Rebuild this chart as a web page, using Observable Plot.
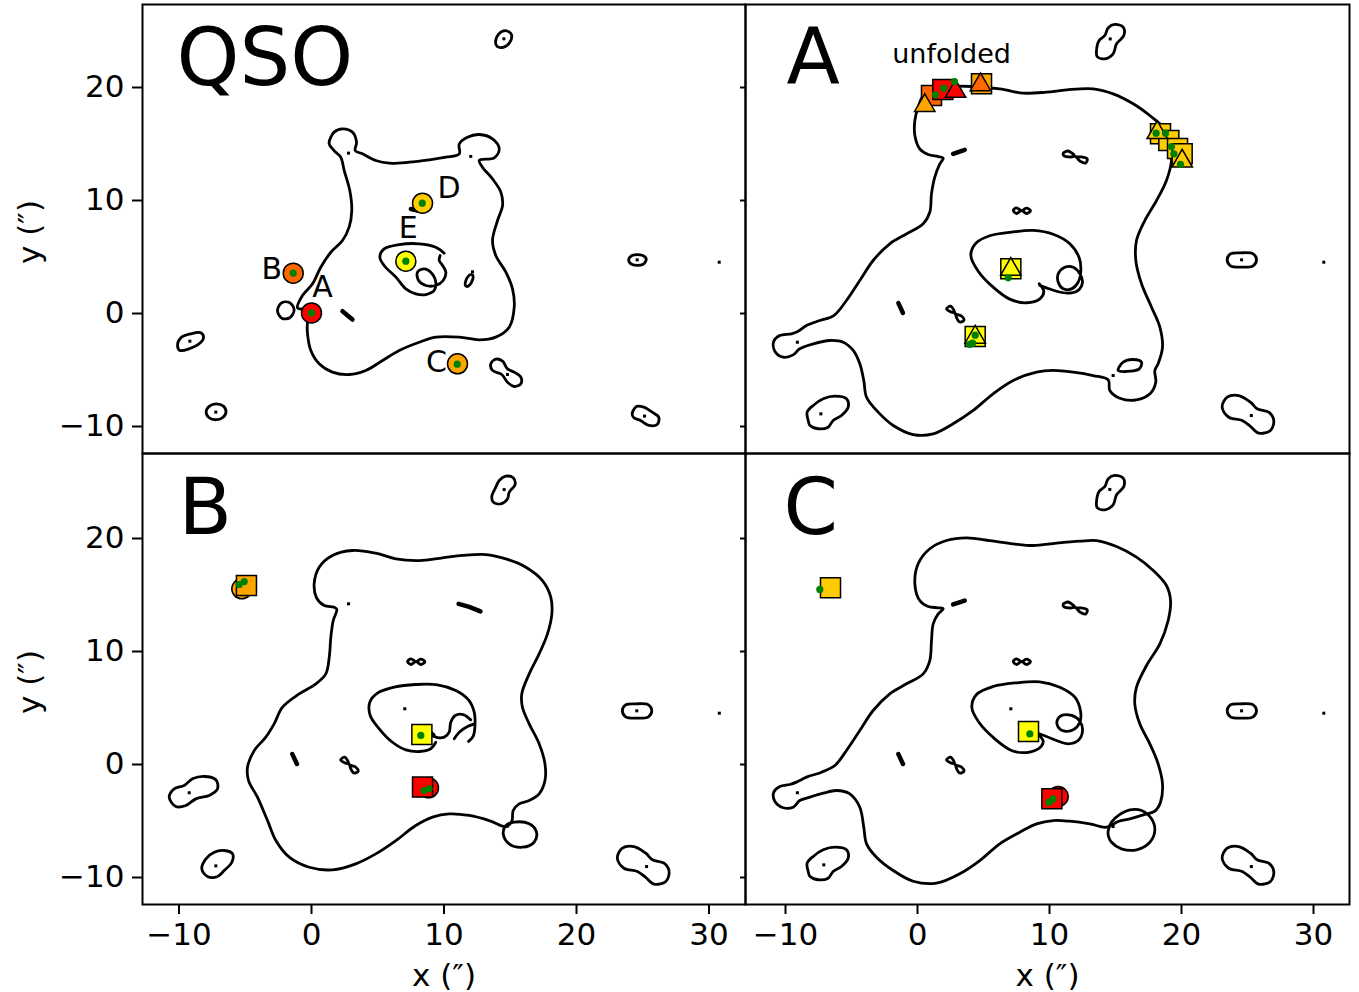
<!DOCTYPE html>
<html><head><meta charset="utf-8">
<script src="https://cdn.jsdelivr.net/npm/d3@7"></script>
<script src="https://cdn.jsdelivr.net/npm/@observablehq/plot@0.6"></script>
<style>
body{margin:0;background:#fff;}
#wrap{position:relative;width:1359px;height:992px;overflow:hidden;background:#fff;}
#wrap svg{position:absolute;max-width:none;}
</style></head><body><div id="wrap"></div>
<script>
// ---------- tick values ----------
const xTicks = [-10, 0, 10, 20, 30];
const yTicks = [-10, 0, 10, 20];
const imgColor = {A: "#ff0000", B: "#ff6600", C: "#ffa500", D: "#ffcc00", E: "#ffff00"};

// ---------- QSO panel ----------
const qsoMain = [[1.33,15.16],[1.71,16.05],[2.34,16.34],[3.09,16.05],[3.40,15.16],[3.30,14.42],[3.85,14.13],[4.85,13.54],[5.86,13.30],[7.37,13.39],[8.88,13.60],[10.14,13.83],[11.15,14.13],[11.15,15.0],[11.77,15.6],[12.66,15.84],[13.66,15.46],[14.17,14.57],[13.79,13.78],[12.66,13.55],[12.9,12.95],[13.66,11.92],[14.29,10.74],[14.42,9.56],[14.04,8.23],[13.66,6.46],[13.91,5.13],[14.67,3.66],[15.17,2.18],[15.3,0.56],[14.92,-1.21],[13.91,-2.09],[12.66,-2.33],[11.15,-2.09],[9.38,-2.09],[8.13,-2.54],[6.62,-3.27],[5.36,-4.16],[4.1,-5.04],[2.84,-5.4],[1.58,-5.19],[0.58,-4.45],[-0.05,-3.27],[-0.3,-1.8],[-0.3,-0.77],[-0.17,-0.18],[-0.55,0.33],[-1.06,0.5],[-0.68,1.59],[0.08,2.63],[0.7,4.1],[1.46,5.42],[2.34,6.46],[2.84,7.64],[3.04,9.12],[2.89,10.88],[2.47,12.65],[2.21,13.83],[1.83,14.27],[1.38,14.87]];
const qsoLoop = [[-2.57,0.27],[-2.24,0.95],[-1.64,0.95],[-1.31,0.33],[-1.64,-0.38],[-2.24,-0.42]];
const qsoI = [[11.6,2.54],[11.77,3.21],[12.1,3.45],[12.2,3.21],[11.95,2.54],[11.7,2.39]];
const qsoLeft = [[-10.11,-2.83],[-9.86,-2.15],[-9.11,-1.8],[-8.35,-1.71],[-8.15,-2.15],[-8.48,-2.68],[-9.23,-3.12],[-9.94,-3.27]];
const qsoRing = [[-7.95,-8.7],[-7.7,-8.2],[-7.2,-8.0],[-6.65,-8.2],[-6.45,-8.7],[-6.7,-9.2],[-7.2,-9.4],[-7.75,-9.2]];
const qsoPeanut = [[13.53,-4.45],[13.91,-4.04],[14.42,-4.22],[14.79,-4.9],[15.3,-5.19],[15.8,-5.64],[15.8,-6.22],[15.3,-6.46],[14.79,-6.08],[14.36,-5.4],[13.66,-5.04]];
const qsoTop = [[13.89,24.01],[14.14,24.75],[14.64,25.04],[15.09,24.69],[14.97,24.01],[14.52,23.57],[14.01,23.63]];
const qsoRight = [[23.94,4.75],[24.2,5.13],[24.95,5.16],[25.26,4.84],[25.03,4.36],[24.2,4.34]];
const qsoBR = [[24.2,-8.88],[24.53,-8.23],[25.08,-8.29],[25.71,-8.73],[26.21,-9.18],[26.09,-9.82],[25.46,-9.91],[24.83,-9.47],[24.33,-9.23]];
const qsoInner = [[10.01,5.34],[9.38,5.87],[8.13,6.17],[6.62,6.1],[5.48,5.72],[5.16,4.99],[5.48,4.25],[6.37,3.22],[7.12,2.18],[7.87,1.74],[8.63,1.68],[9.26,2.04],[9.38,2.77],[9.0,3.66],[8.5,3.95],[8.0,3.66],[8.08,2.92],[8.63,2.48],[9.38,2.48],[9.94,2.92],[10.14,3.66],[9.89,4.25],[9.64,4.69],[9.71,5.13]];
const qsoDashes = [[[2.34,0.2],[3.09,-0.53]], [[7.5,9.25],[8.1,9.08]]];
const qsoDots = [[2.79,14.19],[12.02,13.9],[-9.18,-2.45],[-7.22,-8.73],[14.79,-5.4],[7.0,4.98],[14.52,24.31],[24.58,4.75],[30.77,4.54],[25.13,-9.08],[12.15,3.69]];
const qsoCircles = [[0,0.05,"A"],[-1.38,3.57,"B"],[11.02,-4.45,"C"],[8.38,9.76,"D"],[7.12,4.63,"E"]];
const qsoGreen = [[0,0.05],[-1.38,3.57],[11.0,-4.48],[8.36,9.76],[7.12,4.63]];
const qsoLabels = [{t:"A",x:0.83,y:2.33},{t:"B",x:-3.0,y:3.87},{t:"C",x:9.43,y:-4.31},{t:"D",x:10.39,y:11.04},{t:"E",x:7.3,y:7.5}];

// ---------- shared islands for A/B/C ----------
const rightEll = [[23.46,4.75],[23.71,5.28],[24.47,5.37],[25.43,5.28],[25.68,4.75],[25.43,4.22],[24.47,4.1],[23.71,4.22]];
const brPeanut = [[23.08,-8.29],[23.46,-7.41],[24.34,-7.26],[25.23,-7.85],[25.73,-8.43],[26.61,-8.73],[26.99,-9.47],[26.74,-10.35],[25.86,-10.59],[25.23,-10.0],[24.6,-9.47],[23.58,-9.18]];
const infinity8 = [[7.25,9.12],[7.5,9.35],[7.88,9.1],[8.26,9.32],[8.56,9.1],[8.26,8.85],[7.88,9.1],[7.5,8.85]];
const lowFig8 = [[2.2,0.42],[2.5,0.65],[2.75,0.3],[2.85,0.0],[3.35,-0.25],[3.52,-0.6],[3.2,-0.75],[2.95,-0.35],[2.85,0.0],[2.5,0.15]];
const topFig8 = [[11.04,14.19],[11.4,14.38],[11.8,14.1],[11.95,13.9],[12.4,13.85],[12.86,13.68],[12.75,13.33],[12.3,13.5],[11.95,13.9],[11.6,13.85],[11.1,13.95]];
const lowDash = [[-1.45,0.92],[-1.1,0.05]];
const rightDots = [[24.55,4.75],[30.78,4.54],[25.29,-9.03]];

// ---------- A panel ----------
const aMain = [[0.43,19.29],[1.19,19.88],[2.2,20.09],[4.22,20.09],[6.23,19.88],[8.0,19.5],[9.77,19.59],[11.29,19.79],[13.31,19.88],[14.82,19.44],[16.34,18.56],[17.6,17.52],[18.61,16.49],[19.11,15.31],[19.24,13.54],[18.86,11.77],[18.11,10.0],[17.22,8.23],[16.59,6.46],[16.54,4.69],[16.97,2.63],[17.73,0.56],[18.36,-1.21],[18.56,-2.98],[18.23,-4.45],[17.98,-5.04],[18.05,-6.08],[17.65,-7.05],[16.59,-7.64],[15.33,-7.5],[14.57,-6.81],[14.45,-5.87],[13.31,-5.49],[11.8,-5.19],[10.28,-5.04],[9.02,-5.19],[7.25,-5.93],[5.73,-7.11],[4.22,-8.58],[2.7,-9.76],[1.19,-10.65],[-0.33,-10.71],[-1.84,-9.91],[-2.98,-8.73],[-3.86,-7.41],[-4.07,-5.93],[-4.37,-4.45],[-4.87,-3.27],[-5.63,-2.54],[-6.64,-2.39],[-7.9,-2.68],[-8.92,-3.12],[-9.42,-3.66],[-10.17,-3.87],[-10.81,-3.34],[-10.89,-2.45],[-10.43,-1.95],[-9.55,-1.8],[-9.04,-1.57],[-8.41,-1.06],[-7.4,-0.62],[-6.34,-0.18],[-5.38,1.15],[-4.37,2.92],[-3.36,4.69],[-2.1,6.17],[-0.83,7.05],[0.43,7.94],[0.93,8.96],[1.06,10.59],[1.31,12.06],[1.69,13.25],[1.95,13.74],[1.57,13.89],[0.81,14.07],[0.17,14.57],[-0.2,15.75],[-0.2,17.08],[0.05,18.26]];
const aInner = [[9.22,2.63],[9.57,1.97],[9.27,1.3],[8.26,0.95],[6.99,1.27],[5.73,2.33],[4.6,3.74],[4.04,5.13],[4.42,6.22],[5.53,6.9],[7.12,7.2],[8.77,7.35],[10.33,6.99],[11.54,6.17],[12.25,4.93],[12.37,3.74],[12.17,2.77],[11.67,2.18],[11.04,2.18],[10.66,2.77],[10.66,3.51],[11.16,4.1],[11.8,4.1],[12.3,3.51],[12.5,2.77],[12.17,2.04],[11.42,1.8],[10.53,1.97],[9.77,2.27],[9.27,2.48]];
const aSmallEll = [[15.2,-5.04],[15.58,-4.31],[16.34,-4.07],[16.97,-4.31],[16.8,-4.9],[15.83,-5.13]];
const aBL = [[-8.28,-9.47],[-8.36,-8.73],[-7.9,-8.14],[-7.14,-7.55],[-6.26,-7.32],[-5.38,-7.55],[-5.25,-8.29],[-5.76,-9.03],[-6.39,-9.47],[-6.77,-10.06],[-7.52,-10.2],[-8.14,-9.91]];
const aTop = [[13.56,23.27],[13.76,24.16],[14.19,24.6],[14.45,25.28],[14.95,25.58],[15.58,25.34],[15.63,24.6],[15.08,23.87],[14.82,22.98],[14.19,22.54],[13.61,22.74]];
const aTopDash = [[2.7,14.13],[3.58,14.49]];
const aDots = [[14.6,24.3],[14.82,-5.49],[-9.1,-2.54],[-7.32,-8.88]];
const aSquares = [[1.06,19.3,"B"],[1.92,19.82,"A"],[4.85,20.33,"C"],[18.41,15.9,"D"],[19.04,15.31,"D"],[19.7,14.6,"D"],[20.05,14.13,"D"],[7.07,3.96,"E"],[4.37,-2.04,"E"]];
const aTriangles = [[0.55,18.4,"C"],[2.88,19.65,"A"],[4.77,20.24,"B"],[18.16,16.0,"D"],[20.05,13.48,"D"],[7.07,3.9,"E"],[4.37,-2.1,"E"]];
const aGreen = [[1.36,19.35],[1.99,19.94],[2.8,20.53],[18.08,15.96],[18.79,15.96],[19.24,14.78],[19.42,14.13],[19.92,13.19],[6.87,3.16],[4.37,-1.92],[3.96,-2.74],[4.17,-2.63]];
const aNote = [{t:"unfolded", x:2.58, y:22.92}];

// ---------- B panel ----------
const bMain = [[0.2,15.99],[0.58,17.46],[1.58,18.5],[3.09,18.94],[4.85,18.7],[6.37,18.2],[8.13,18.05],[9.89,18.29],[11.4,18.5],[13.15,18.58],[14.67,18.2],[16.18,17.46],[17.43,16.28],[18.06,14.81],[18.14,13.33],[17.81,11.56],[17.18,9.79],[16.43,8.02],[15.87,6.25],[15.92,5.07],[16.43,3.6],[17.18,1.83],[17.62,0.06],[17.62,-1.42],[17.18,-2.6],[16.43,-3.19],[15.67,-3.48],[15.22,-4.07],[15.12,-5.02],[14.67,-5.49],[13.41,-4.96],[11.9,-4.51],[10.39,-4.37],[9.13,-4.66],[7.87,-5.4],[6.37,-6.73],[4.85,-7.91],[3.34,-8.79],[1.58,-9.32],[-0.17,-9.09],[-1.68,-8.2],[-2.69,-6.73],[-3.32,-4.96],[-4.08,-2.89],[-4.75,-1.42],[-4.83,-0.24],[-4.32,1.24],[-3.45,2.42],[-2.82,3.6],[-2.19,5.07],[-0.93,6.25],[0.33,7.14],[1.08,8.02],[1.34,9.5],[1.46,11.27],[1.64,12.74],[1.91,13.72],[1.71,13.92],[0.96,14.07],[0.38,14.75]];
const bLoop = [[14.47,-6.13],[14.67,-5.4],[15.3,-5.1],[16.43,-5.25],[16.98,-5.99],[16.8,-6.88],[15.92,-7.32],[14.92,-7.02]];
const bInner = [[9.38,1.97],[9.0,1.39],[8.13,1.15],[7.12,1.3],[6.11,1.97],[5.11,3.16],[4.43,4.34],[4.4,5.51],[4.98,6.31],[6.24,6.84],[7.87,7.08],[9.51,7.05],[10.89,6.55],[11.85,5.72],[12.28,4.63],[12.33,3.3],[12.2,2.48],[11.85,2.04]];
const bSquiggle = [[8.83,2.95],[9.26,2.48],[10.02,2.42],[10.39,2.86],[10.51,3.74],[10.85,4.34],[11.45,4.42],[12.02,3.95]];
const bArc = [[10.77,2.27],[11.15,2.86],[11.77,3.36],[12.28,3.6]];
const bLeft = [[-10.74,-2.89],[-10.36,-2.15],[-9.61,-1.86],[-8.98,-1.27],[-8.1,-1.06],[-7.22,-1.35],[-7.09,-2.15],[-7.72,-2.74],[-8.73,-3.04],[-9.48,-3.63],[-10.24,-3.72]];
const bBL = [[-8.28,-9.23],[-7.97,-8.35],[-7.34,-7.76],[-6.59,-7.61],[-5.96,-7.9],[-6.01,-8.65],[-6.59,-9.38],[-7.09,-9.91],[-7.85,-9.91]];
const bTop = [[13.61,23.72],[13.91,24.54],[14.17,25.13],[14.67,25.51],[15.22,25.37],[15.37,24.78],[14.92,24.09],[14.79,23.5],[14.29,23.07],[13.71,23.22]];
const bTopDash = [[11.1,14.22],[11.9,13.95],[12.75,13.55]];
const bBlob = [[8.75,3.05],[9.2,2.6]];
const bDots = [[2.79,14.22],[7.04,4.93],[-9.23,-2.5],[-7.22,-8.97],[14.54,24.33],[14.8,-5.45]];
const bCircles = [[-5.26,15.55,"C"],[8.83,-2.06,"A"]];
const bSquares = [[-4.91,15.84,"C"],[8.33,2.65,"E"],[8.38,-2.0,"A"]];
const bGreen = [[-5.46,15.93],[-5.08,16.19],[8.25,2.57],[8.5,-2.3],[8.88,-2.15]];

// ---------- C panel ----------
const cMain = [[0.17,14.51],[-0.2,15.99],[0.05,17.76],[0.93,19.09],[2.2,19.82],[3.71,20.06],[5.48,19.82],[7.25,19.53],[8.77,19.38],[10.53,19.59],[12.3,19.76],[13.56,19.82],[15.08,19.29],[16.59,18.35],[17.86,17.17],[18.86,15.84],[19.17,14.51],[18.99,12.74],[18.36,10.68],[17.35,8.76],[16.59,6.84],[16.46,5.37],[16.84,3.6],[17.6,1.83],[18.23,0.06],[18.56,-1.71],[18.41,-3.34],[17.98,-4.13],[17.22,-4.42],[16.08,-4.81],[15.2,-5.04],[14.32,-5.55],[13.05,-5.25],[11.54,-5.02],[10.28,-4.96],[9.02,-5.25],[7.75,-5.99],[6.23,-7.02],[4.72,-8.5],[3.2,-9.67],[1.44,-10.5],[-0.33,-10.33],[-1.84,-9.38],[-3.11,-8.2],[-3.86,-7.02],[-4.07,-5.55],[-4.37,-3.78],[-5.13,-2.6],[-6.14,-2.3],[-7.14,-2.54],[-8.16,-2.89],[-8.92,-3.19],[-9.42,-3.78],[-10.17,-3.83],[-10.81,-3.25],[-10.89,-2.45],[-10.43,-1.95],[-9.67,-1.77],[-9.17,-1.56],[-8.41,-1.12],[-7.27,-0.68],[-6.26,-0.09],[-5.38,1.24],[-4.37,3.01],[-3.36,4.78],[-2.1,6.25],[-0.83,7.14],[0.43,8.02],[0.93,9.2],[1.06,10.97],[1.19,12.45],[1.57,13.33],[1.95,13.78],[1.57,13.87],[0.81,13.98]];
const cRing = [[14.45,-5.84],[14.7,-5.1],[15.33,-4.42],[16.08,-4.01],[16.97,-4.07],[17.73,-4.81],[17.98,-5.84],[17.6,-6.88],[16.59,-7.55],[15.45,-7.46],[14.7,-6.88],[14.45,-6.28]];
const cInner = [[9.14,2.65],[9.52,2.06],[9.27,1.48],[8.26,1.06],[7.12,1.24],[5.86,2.27],[4.65,3.74],[4.12,5.02],[4.47,6.19],[5.73,6.9],[7.5,7.23],[9.27,7.32],[10.78,6.84],[11.92,5.96],[12.35,4.72],[12.3,3.74],[11.8,3.07],[11.16,2.95],[10.66,3.3],[10.58,3.89],[10.91,4.34],[11.67,4.34],[12.3,3.83],[12.5,2.95],[12.17,2.12],[11.42,1.83],[10.53,2.12],[9.77,2.48],[9.22,2.72]];
const cTopDash = [[2.7,14.16],[3.58,14.51]];
const cDots = [[-9.1,-2.5],[-7.1,-8.88],[7.07,4.93],[14.57,24.34],[14.82,-5.49]];
const cCircles = [[10.66,-2.83,"A"]];
const cSquares = [[-6.59,15.64,"D"],[8.41,2.92,"E"],[10.18,-3.04,"A"]];
const cGreen = [[-7.4,15.49],[8.51,2.71],[9.97,-3.33],[10.28,-3.04]];

// ---------- helpers ----------
function rows(curves) {
  return curves.flatMap((c, i) => c.map(([x, y]) => ({x, y, id: i})));
}
const FONT = "DejaVu Sans";
const LW = 2.8;

function makePanel(cfg) {
  const marks = [];
  marks.push(Plot.line(rows(cfg.closed), {x: "x", y: "y", z: "id", curve: "catmull-rom-closed", stroke: "black", strokeWidth: LW}));
  if (cfg.open) marks.push(Plot.line(rows(cfg.open), {x: "x", y: "y", z: "id", curve: "catmull-rom", stroke: "black", strokeWidth: LW}));
  if (cfg.dashes) marks.push(Plot.line(rows(cfg.dashes), {x: "x", y: "y", z: "id", stroke: "black", strokeWidth: 4.5, strokeLinecap: "round"}));
  marks.push(Plot.dot(cfg.dots, {x: d => d[0], y: d => d[1], symbol: "square", r: 1.7, fill: "black"}));
  if (cfg.circles) marks.push(Plot.dot(cfg.circles, {x: d => d[0], y: d => d[1], r: 10, fill: d => imgColor[d[2]], stroke: "black", strokeWidth: 1.5}));
  if (cfg.squares) marks.push(Plot.dot(cfg.squares, {x: d => d[0], y: d => d[1], symbol: "square", r: 11.3, fill: d => imgColor[d[2]], stroke: "black", strokeWidth: 1.5}));
  if (cfg.triangles) marks.push(Plot.dot(cfg.triangles, {x: d => d[0], y: d => d[1], symbol: "triangle", r: 7.6, fill: d => imgColor[d[2]], stroke: "black", strokeWidth: 1.5}));
  marks.push(Plot.dot(cfg.green, {x: d => d[0], y: d => d[1], r: 3.6, fill: "#008000"}));
  if (cfg.labels) marks.push(Plot.text(cfg.labels, {x: "x", y: "y", text: "t", fontSize: cfg.labelSize || 30}));
  marks.push(Plot.text([cfg.title], {text: d => d, frameAnchor: "top-left", dx: cfg.tdx, dy: cfg.tdy, lineAnchor: "top", textAnchor: "start", fontSize: cfg.tsize || 78}));
  marks.push(Plot.frame({stroke: "black", strokeWidth: 2}));
  if (cfg.left) {
    marks.push(Plot.axisY({ticks: yTicks, tickSize: 10, tickPadding: 8, fontSize: 31, strokeWidth: 2, label: null}));
    marks.push(Plot.text(["y (\u2033)"], {text: d => d, frameAnchor: "left", textAnchor: "middle", lineAnchor: "middle", dx: -112, dy: 3, rotate: -90, fontSize: 31}));
  } else {
    marks.push(Plot.axisY({ticks: yTicks, tickSize: 5, tickFormat: () => "", strokeWidth: 2, label: null}));
  }
  if (cfg.bottom) {
    marks.push(Plot.axisX({ticks: xTicks, tickSize: 10, tickPadding: 8, fontSize: 31, strokeWidth: 2, label: null}));
    marks.push(Plot.text(["x (\u2033)"], {text: d => d, frameAnchor: "bottom", textAnchor: "middle", lineAnchor: "middle", dy: 72, fontSize: 31}));
  }
  const svg = Plot.plot({
    width: cfg.width, height: cfg.height,
    marginLeft: cfg.ml, marginRight: cfg.mr, marginTop: cfg.mt, marginBottom: cfg.mb,
    x: {domain: cfg.xd, axis: cfg.bottom ? undefined : null},
    y: {domain: cfg.yd},
    color: {type: "identity"},
    style: {fontFamily: FONT, background: "transparent", overflow: "visible", color: "black"},
    marks
  });
  svg.style.left = cfg.px + "px";
  svg.style.top = cfg.py + "px";
  document.getElementById("wrap").appendChild(svg);
}

const xdL = [-12.755, 32.755], xdR = [-13.03, 32.727];
const ydT = [-12.389, 27.345], ydB = [-12.389, 27.522];

makePanel({
  title: "QSO", tdx: 34, tdy: 24, tsize: 80, left: true, bottom: false,
  px: 0, py: 0, width: 746, height: 454, ml: 142, mr: 1, mt: 4, mb: 1, xd: xdL, yd: ydT,
  closed: [qsoMain, qsoLoop, qsoI, qsoLeft, qsoRing, qsoPeanut, qsoTop, qsoRight, qsoBR],
  open: [qsoInner], dashes: qsoDashes, dots: qsoDots,
  circles: qsoCircles, green: qsoGreen, labels: qsoLabels
});
makePanel({
  title: "A", tdx: 41, tdy: 24, left: false, bottom: false,
  px: 735, py: 0, width: 624, height: 454, ml: 10, mr: 10, mt: 4, mb: 1, xd: xdR, yd: ydT,
  closed: [aMain, aSmallEll, aBL, aTop, rightEll, brPeanut, infinity8, lowFig8, topFig8],
  open: [aInner], dashes: [aTopDash, lowDash], dots: aDots.concat(rightDots),
  squares: aSquares, triangles: aTriangles, green: aGreen, labels: aNote, labelSize: 27
});
makePanel({
  title: "B", tdx: 36, tdy: 25, left: true, bottom: true,
  px: 0, py: 443, width: 746, height: 549, ml: 142, mr: 1, mt: 10, mb: 88, xd: xdL, yd: ydB,
  closed: [bMain, bLoop, bLeft, bBL, bTop, rightEll, brPeanut, infinity8, lowFig8],
  open: [bInner, bSquiggle, bArc], dashes: [lowDash, bTopDash, bBlob], dots: bDots.concat(rightDots),
  circles: bCircles, squares: bSquares, green: bGreen
});
makePanel({
  title: "C", tdx: 38, tdy: 25, left: false, bottom: true,
  px: 735, py: 443, width: 624, height: 549, ml: 10, mr: 10, mt: 10, mb: 88, xd: xdR, yd: ydB,
  closed: [cMain, cRing, aBL, aTop, rightEll, brPeanut, infinity8, lowFig8, topFig8],
  open: [cInner], dashes: [cTopDash, lowDash], dots: cDots.concat(rightDots),
  circles: cCircles, squares: cSquares, green: cGreen
});
</script></body></html>
